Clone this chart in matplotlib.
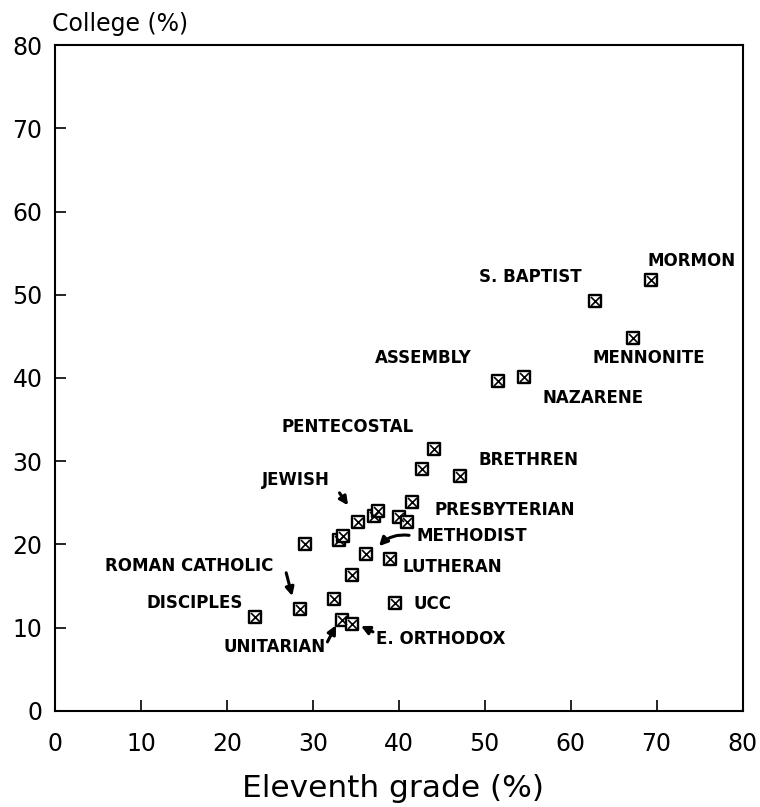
import matplotlib
matplotlib.use('Agg')
from matplotlib import pyplot as plt

# values
names = ['MORMON', 'S. BAPTIST', 'MENNONITE', 'NAZARENE', 'ASSEMBLY',
         'PENTECOSTAL', '', 'BRETHREN', 'PRESBYTERIAN', '', '', 'JEWISH',
         '', '', '', '', '', 'METHODIST', 'LUTHERAN', '', '', 'UCC',
         'ROMAN CATHOLIC', 'DISCIPLES', 'UNITARIAN', 'E. ORTHODOX']
eleventh = [69.3, 62.8, 67.2, 54.6, 51.5,
            44.1, 42.7, 47.1, 41.5, 37.1, 37.6, 35.2,
            40.0, 40.9, 33.0, 33.5, 29.1, 36.2, 39.0, 34.6, 32.5, 39.6,
            28.5, 23.3, 33.4, 34.5]
college = [51.8, 49.2, 44.8, 40.1, 39.6,
           31.5, 29.1, 28.2, 25.1, 23.4, 24.0, 22.7,
           23.3, 22.7, 20.5, 21.0, 20.1, 18.8, 18.3, 16.3, 13.5, 13.0,
           12.2, 11.3, 10.9, 10.4]
ticks = [0, 10, 20, 30, 40, 50, 60, 70, 80]

# label placement (left edge, vertical centre) and arrows, in data units
label_pos = {
    'MORMON': (69.0, 54.1), 'S. BAPTIST': (49.3, 52.1),
    'MENNONITE': (62.6, 42.4), 'ASSEMBLY': (37.2, 42.4),
    'NAZARENE': (56.7, 37.6), 'PENTECOSTAL': (26.4, 34.1),
    'BRETHREN': (49.3, 30.1), 'JEWISH': (24.1, 27.8),
    'PRESBYTERIAN': (44.2, 24.2), 'METHODIST': (42.1, 21.0),
    'LUTHERAN': (40.4, 17.3), 'UCC': (41.7, 12.9),
    'E. ORTHODOX': (37.3, 8.7), 'UNITARIAN': (19.6, 7.7),
    'DISCIPLES': (10.7, 13.0), 'ROMAN CATHOLIC': (5.8, 17.4),
}
arrows = [((33.1, 26.2), (34.1, 24.7), 0.0),
          ((26.9, 16.6), (27.6, 13.8), 0.0),
          ((31.7, 8.3), (32.7, 10.3), 0.0),
          ((37.0, 9.5), (35.6, 10.2), 0.0),
          ((41.2, 21.1), (37.7, 19.8), 0.25)]

fig = plt.figure(figsize=(7.6, 8.07), dpi=100)
ax = fig.add_axes([0.0724, 0.1190, 0.9046, 0.8252])

ax.scatter(eleventh, college, marker='s', s=80, facecolor='white',
           edgecolor='black', linewidth=1.7, zorder=3)
ax.scatter(eleventh, college, marker='x', s=42, color='black',
           linewidth=1.2, zorder=4)

for n, (lx, ly) in label_pos.items():
    ax.text(lx, ly, n, ha='left', va='center', fontsize=12,
            fontweight='bold', family='DejaVu Sans', zorder=5)

for start, tip, rad in arrows:
    ax.annotate('', xy=tip, xytext=start,
                arrowprops=dict(arrowstyle='-|>,head_length=0.5,head_width=0.25',
                                color='black', lw=2.2,
                                connectionstyle='arc3,rad=%s' % rad,
                                shrinkA=0, shrinkB=0))

ax.set_xlim(0, 80)
ax.set_ylim(0, 80)
ax.set_xticks(ticks)
ax.set_yticks(ticks)
ax.tick_params(direction='in', length=8, width=1.2, labelsize=17)
ax.tick_params(axis='x', pad=15)
ax.tick_params(axis='y', pad=9)
for sp in ax.spines.values():
    sp.set_linewidth(1.5)

fig.text(0.068, 0.970, 'College (%)', ha='left', va='center',
         fontsize=17, family='DejaVu Sans')
fig.text(0.517, 0.0235, 'Eleventh grade (%)', ha='center', va='center',
         fontsize=22.5, family='DejaVu Sans')

fig.savefig('out.png', dpi=100)
